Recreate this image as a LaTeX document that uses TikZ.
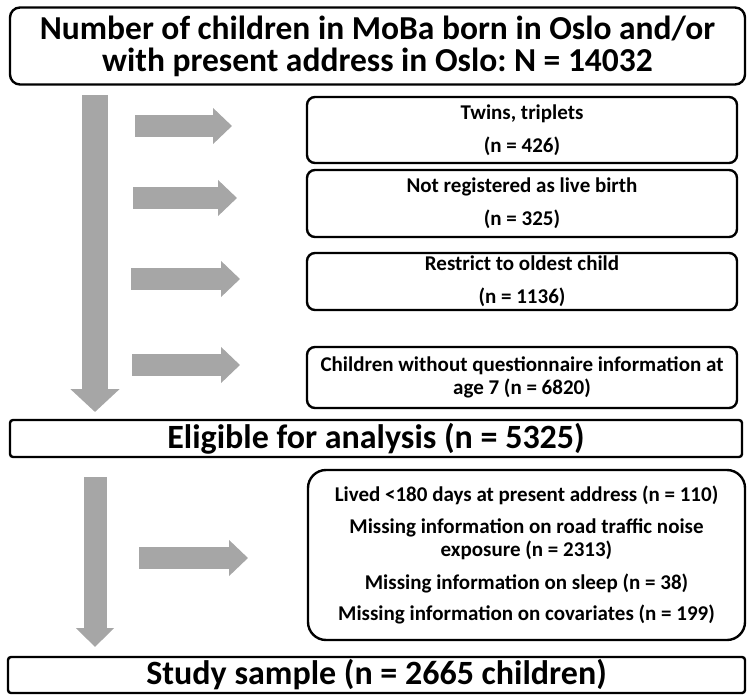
\documentclass[tikz,border=0pt]{standalone}
\usepackage{fontspec}
\setmainfont{Carlito}
\usepackage{tikz}
\usetikzlibrary{arrows.meta}
\definecolor{arrowgrey}{RGB}{166,166,166}
\tikzset{
  box/.style={draw, line width=2.4pt, rounded corners=8pt, inner sep=0pt, align=center},
  headbox/.style={box, rounded corners=10pt, font=\fontsize{33.5}{32}\selectfont\bfseries\frenchspacing},
  sidebox/.style={box, minimum width=430pt, font=\fontsize{21}{33}\selectfont\bfseries},
  barbox/.style={box, rounded corners=3pt, font=\fontsize{34}{36}\selectfont\bfseries},
  downarrow/.style={arrowgrey, line width=26pt, -{Triangle[width=48pt,length=23pt]}},
  rightarrow/.style={arrowgrey, line width=22pt, -{Triangle[width=35pt,length=19pt]}}
}

\begin{document}
\begin{tikzpicture}[x=1pt, y=-1pt]
\useasboundingbox (0,0) rectangle (751,700);
\node[headbox, minimum width=735pt, minimum height=77pt] (total) at (377.5,46) {Number of children in MoBa born in Oslo and/or\\with present address in Oslo: N = 14032};
\node[sidebox, minimum height=66pt] (twins) at (522,130) {Twins, triplets\\(n = 426)};
\node[sidebox, minimum height=67pt] (live) at (522,203.5) {Not registered as live birth\\(n = 325)};
\node[sidebox, minimum height=57pt] (oldest) at (522,281.5) {Restrict to oldest child\\(n = 1136)};
\node[sidebox, minimum height=61pt, font=\fontsize{21}{23}\selectfont\bfseries] (noquest) at (522,377.5) {Children without questionnaire information at\\age 7 (n = 6820)};
\node[barbox, minimum width=732pt, minimum height=37pt] (eligible) at (376,438.5) {Eligible for analysis (n = 5325)};
\node[box, rounded corners=18pt, minimum width=437pt, minimum height=170pt, font=\fontsize{21}{23}\selectfont\bfseries] (missing) at (526.5,555) {Lived <180 days at present address (n = 110)\\[9pt]Missing information on road traffic noise\\exposure (n = 2313)\\[10pt]Missing information on sleep (n = 38)\\[8pt]Missing information on covariates (n = 199)};
\node[barbox, minimum width=737pt, minimum height=36pt] (study) at (376.5,675) {Study sample (n = 2665 children)};
\coordinate (d1s) at (95,95);
\coordinate (d1e) at (95,412);
\draw[downarrow] (d1s) -- (d1e);
\coordinate (r1s) at (135,126);
\coordinate (r1e) at (232,126);
\draw[rightarrow] (r1s) -- (r1e);
\coordinate (r2s) at (133,198);
\coordinate (r2e) at (237,198);
\draw[rightarrow] (r2s) -- (r2e);
\coordinate (r3s) at (131,279);
\coordinate (r3e) at (240,279);
\draw[rightarrow] (r3s) -- (r3e);
\coordinate (r4s) at (132,365);
\coordinate (r4e) at (240,365);
\draw[rightarrow] (r4s) -- (r4e);
\coordinate (d2s) at (95,477);
\coordinate (d2e) at (95,647);
\draw[downarrow, line width=23pt, -{Triangle[width=37pt,length=19pt]}] (d2s) -- (d2e);
\coordinate (r5s) at (139,558);
\coordinate (r5e) at (248,558);
\draw[rightarrow] (r5s) -- (r5e);
\end{tikzpicture}
\end{document}
